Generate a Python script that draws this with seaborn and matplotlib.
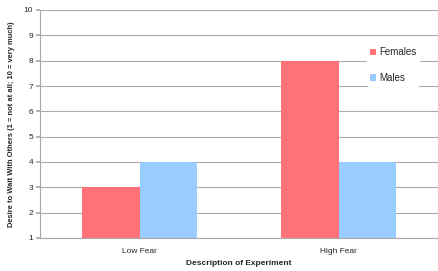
import pandas as pd
import matplotlib
matplotlib.use("Agg")
import matplotlib.pyplot as plt
import seaborn as sns

sns.set_theme(style="white")
plt.rcParams["font.family"] = ["Liberation Sans", "DejaVu Sans"]

conditions = ["Low Fear", "High Fear"]
females = [3, 8]
males = [4, 4]
groups = ["Females", "Males"]
colors = ["#FF7378", "#99CCFF"]

df = pd.DataFrame({
    "condition": conditions * 2,
    "sex": [groups[0]] * 2 + [groups[1]] * 2,
    "desire": females + males,
})

fig = plt.figure(figsize=(4.38, 2.71), dpi=100)
ax = fig.add_axes([40 / 438, 33 / 271, 398 / 438, 228 / 271])

sns.barplot(data=df, x="condition", y="desire", hue="sex", palette=colors,
            width=0.575, saturation=1, edgecolor="none", linewidth=0, ax=ax)

ax.set_ylim(1, 10)
ax.set_yticks(range(1, 11))
ax.set_xlim(-0.5, 1.5)
ax.yaxis.grid(True, color="#AAAAAA", linewidth=0.8)
ax.set_axisbelow(True)
for s in ["top", "right"]:
    ax.spines[s].set_visible(False)
for s in ["left", "bottom"]:
    ax.spines[s].set_color("#AAAAAA")
    ax.spines[s].set_linewidth(0.8)
ax.set_xticks([0.5], minor=True)
ax.tick_params(axis="x", which="minor", length=3, color="#AAAAAA", direction="in")
ax.tick_params(axis="x", which="major", length=0, labelsize=6, pad=7)
ax.tick_params(axis="y", length=3, color="#AAAAAA", labelsize=6, pad=2, left=True)

ax.set_xlabel("Description of Experiment", fontsize=6, fontweight="bold", labelpad=4)
ax.set_ylabel("Desire to Wait With Others (1 = not at all; 10 = very much)",
              fontsize=5.4, fontweight="bold", labelpad=6)

handles, labels = ax.get_legend_handles_labels()
leg = ax.legend(handles, labels, loc="upper left", bbox_to_anchor=(0.81, 0.87),
                frameon=True, fontsize=7, handlelength=0.6, handleheight=0.6,
                handletextpad=0.3, labelspacing=1.6, borderpad=0.3)
leg.get_frame().set_edgecolor("white")
leg.get_frame().set_facecolor("white")
leg.get_frame().set_alpha(1)

fig.savefig("out.png", dpi=100)
